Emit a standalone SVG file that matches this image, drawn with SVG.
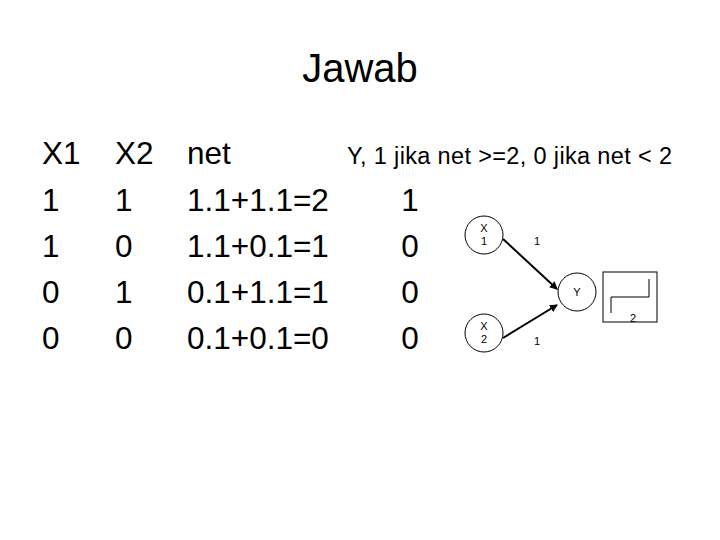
<svg xmlns="http://www.w3.org/2000/svg" width="720" height="540" viewBox="0 0 720 540">
<style>
.t{font-family:"Liberation Sans",Arial,sans-serif;font-size:31.5px;fill:#000}
.s{font-family:"Liberation Sans",Arial,sans-serif;font-size:11px;fill:#000}
.n{fill:#fff;stroke:#000;stroke-width:1}
</style>
<defs><marker id="a" markerWidth="8" markerHeight="8" refX="7" refY="4" orient="auto" markerUnits="userSpaceOnUse"><path d="M0,0 L8,4 L0,8 z" fill="#000"/></marker></defs>
<rect width="720" height="540" fill="#fff"/>
<text x="360" y="82" text-anchor="middle" class="t" style="font-size:40px">Jawab</text>
<g id="table">
<text x="42" y="164" class="t">X1</text><text x="115" y="164" class="t">X2</text><text x="187" y="164" class="t">net</text>
<text x="347" y="164" class="t" style="font-size:23.5px" textLength="325" lengthAdjust="spacing">Y, 1 jika net &gt;=2, 0 jika net &lt; 2</text>
<text x="42" y="211" class="t">1</text><text x="115" y="211" class="t">1</text><text x="187" y="211" class="t">1.1+1.1=2</text><text x="410" y="211" class="t" text-anchor="middle">1</text>
<text x="42" y="257" class="t">1</text><text x="115" y="257" class="t">0</text><text x="187" y="257" class="t">1.1+0.1=1</text><text x="410" y="257" class="t" text-anchor="middle">0</text>
<text x="42" y="303" class="t">0</text><text x="115" y="303" class="t">1</text><text x="187" y="303" class="t">0.1+1.1=1</text><text x="410" y="303" class="t" text-anchor="middle">0</text>
<text x="42" y="349" class="t">0</text><text x="115" y="349" class="t">0</text><text x="187" y="349" class="t">0.1+0.1=0</text><text x="410" y="349" class="t" text-anchor="middle">0</text>
</g>
<g id="connectors" stroke="#000" stroke-width="2">
<line x1="503" y1="239" x2="557" y2="289" marker-end="url(#a)"/>
<line x1="503" y1="338" x2="557" y2="305" marker-end="url(#a)"/>
</g>
<g id="x1"><circle cx="484" cy="235" r="19" class="n"/><text x="484" y="232" class="s" text-anchor="middle">X</text><text x="484" y="245" class="s" text-anchor="middle">1</text></g>
<g id="x2"><circle cx="484" cy="333" r="19" class="n"/><text x="484" y="330" class="s" text-anchor="middle">X</text><text x="484" y="343" class="s" text-anchor="middle">2</text></g>
<g id="y"><circle cx="577" cy="292" r="19" class="n"/><text x="577" y="296" class="s" text-anchor="middle">Y</text></g>
<g id="step"><rect x="603" y="272" width="54" height="50" class="n"/><polyline points="611,313 611,297 649,297 649,279" fill="none" stroke="#000"/><text x="633" y="322" class="s" text-anchor="middle">2</text></g>
<text x="537" y="245" class="s" text-anchor="middle">1</text>
<text x="537" y="345" class="s" text-anchor="middle">1</text>
</svg>
